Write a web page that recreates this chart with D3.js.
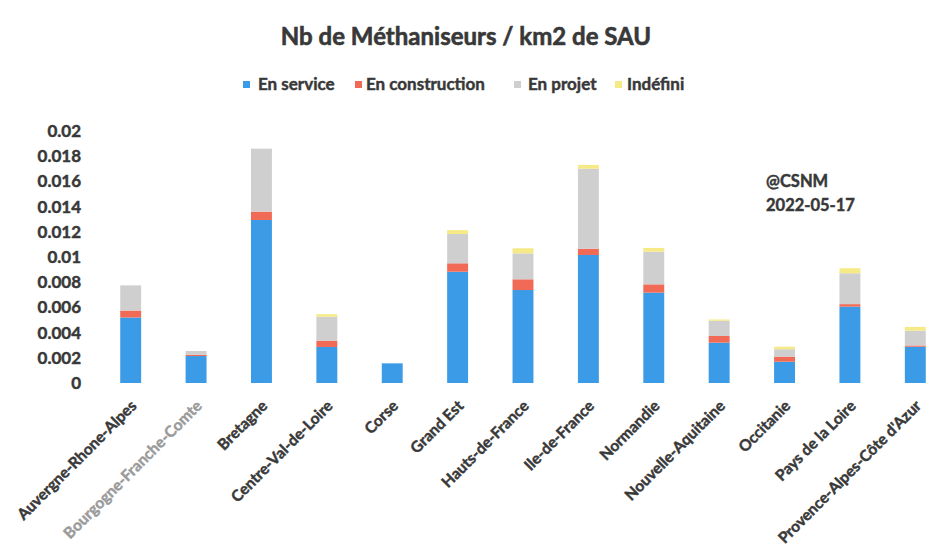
<!DOCTYPE html>
<html>
<head>
<meta charset="utf-8">
<script src="https://cdn.jsdelivr.net/npm/d3@7"></script>
<style>
  body { margin: 0; background: #fff; }
  svg { font-family: Lato, "Open Sans", sans-serif; font-weight: bold; }
  svg text { stroke: #383838; stroke-width: 0.45px; }
</style>
</head>
<body>
<svg></svg>
<script>
const regions = [
  "Auvergne-Rhone-Alpes", "Bourgogne-Franche-Comte", "Bretagne", "Centre-Val-de-Loire",
  "Corse", "Grand Est", "Hauts-de-France", "Ile-de-France", "Normandie",
  "Nouvelle-Aquitaine", "Occitanie", "Pays de la Loire", "Provence-Alpes-Côte d'Azur"
];
const enService      = [0.0052, 0.00214, 0.01294, 0.00286, 0.00156, 0.00883, 0.00738, 0.01016, 0.00717, 0.0032, 0.00169, 0.00606, 0.00288];
const enConstruction = [0.00055, 0.0001, 0.00066, 0.0005, 0, 0.00067, 0.00085, 0.0005, 0.00066, 0.00053, 0.0004, 0.0002, 0.0001];
const enProjet       = [0.002, 0.0003, 0.005, 0.0019, 0, 0.00233, 0.00206, 0.00635, 0.00259, 0.00121, 0.00059, 0.00245, 0.00117];
const indefini       = [0, 0, 0, 0.0002, 0, 0.0003, 0.0004, 0.0003, 0.0003, 0.0001, 0.0002, 0.0004, 0.0003];
const seriesNames = ["En service", "En construction", "En projet", "Indéfini"];
const colors = ["#3b9be6", "#f06a55", "#cfcfcf", "#f5ea85"];
const yTicks = [0, 0.002, 0.004, 0.006, 0.008, 0.01, 0.012, 0.014, 0.016, 0.018, 0.02];

const width = 927;
const height = 551;
const textColor = "#383838";

const svg = d3.select("svg").attr("width", width).attr("height", height);

const table = regions.map((r, i) => ({
  region: r,
  "En service": enService[i],
  "En construction": enConstruction[i],
  "En projet": enProjet[i],
  "Indéfini": indefini[i]
}));
const stacked = d3.stack().keys(seriesNames)(table);

const x = d3.scaleBand().domain(regions).range([98, 948]).paddingInner(0.68).paddingOuter(0.34);
const y = d3.scaleLinear().domain([0, 0.02]).range([383, 131]);

// title
svg.append("text")
  .attr("x", 466).attr("y", 45)
  .attr("text-anchor", "middle")
  .attr("font-size", 24)
  .attr("fill", textColor)
  .style("stroke-width", "0.6px")
  .text("Nb de Méthaniseurs / km2 de SAU");

// legend
const squareX = [243, 355, 514, 615];
const labelX = [258, 366, 528, 627];
const legend = svg.append("g");
seriesNames.forEach((name, i) => {
  legend.append("rect")
    .attr("x", squareX[i]).attr("y", 81)
    .attr("width", 7).attr("height", 7)
    .attr("fill", colors[i]);
  legend.append("text")
    .attr("x", labelX[i]).attr("y", 90)
    .attr("font-size", 17)
    .attr("fill", textColor)
    .text(name);
});

// y axis
const yAxis = d3.axisLeft(y).tickValues(yTicks).tickSize(0).tickPadding(0)
  .tickFormat(d => d === 0 ? "0" : String(+d.toFixed(3)));
svg.append("g")
  .attr("transform", "translate(81, 0)")
  .call(yAxis)
  .call(g => g.select(".domain").remove())
  .call(g => g.selectAll("text")
    .attr("font-size", 17)
    .attr("fill", textColor)
    .attr("font-family", "Lato, sans-serif")
    .attr("font-weight", "bold"));

// bars
svg.append("g")
  .selectAll("g")
  .data(stacked)
  .enter()
  .append("g")
  .attr("fill", (d, i) => colors[i])
  .selectAll("rect")
  .data(d => d)
  .enter()
  .append("rect")
  .attr("x", d => x(d.data.region))
  .attr("width", x.bandwidth())
  .attr("y", d => y(d[1]))
  .attr("height", d => y(d[0]) - y(d[1]));

// x labels
const xAxis = d3.axisBottom(x).tickSize(0).tickPadding(0);
svg.append("g")
  .attr("transform", "translate(0, 383)")
  .call(xAxis)
  .call(g => g.select(".domain").remove())
  .call(g => g.selectAll("text")
    .attr("font-size", 15.5)
    .attr("font-family", "Lato, sans-serif")
    .attr("font-weight", "bold")
    .attr("fill", (d, i) => i === 1 ? "#9a9a9a" : textColor)
    .style("stroke", (d, i) => i === 1 ? "#9a9a9a" : textColor)
    .attr("text-anchor", "end")
    .attr("dy", "0.35em")
    .attr("transform", "translate(3, 20) rotate(-45)"));

// annotation
svg.append("text").attr("x", 766).attr("y", 187)
  .attr("font-size", 16.5).attr("fill", textColor).text("@CSNM");
svg.append("text").attr("x", 766).attr("y", 211)
  .attr("font-size", 16.5).attr("fill", textColor).text("2022-05-17");
</script>
</body>
</html>
